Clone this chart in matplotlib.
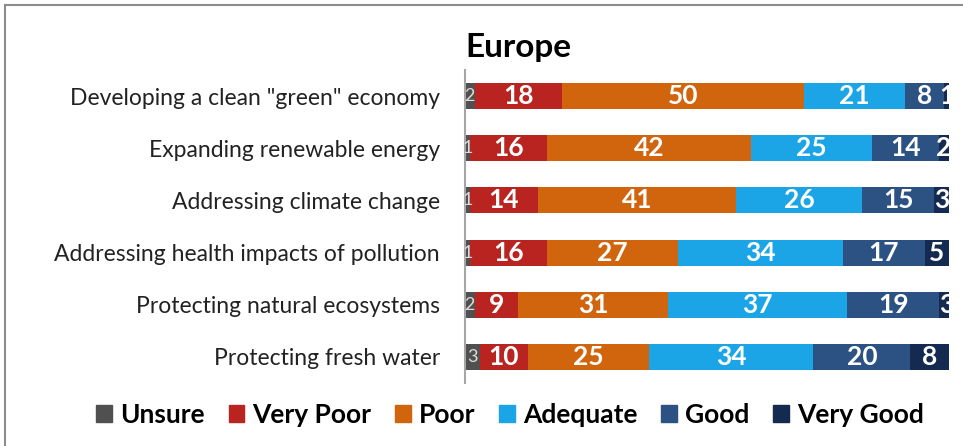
import numpy as np
import matplotlib.pyplot as plt
from matplotlib.lines import Line2D
import matplotlib.patches as mpatches

plt.rcParams['font.family'] = ['Lato', 'DejaVu Sans']

# -- data ---------------------------------------------------------------------
categories = [
    'Developing a clean "green" economy',
    'Expanding renewable energy',
    'Addressing climate change',
    'Addressing health impacts of pollution',
    'Protecting natural ecosystems',
    'Protecting fresh water',
]
series = ['Unsure', 'Very Poor', 'Poor', 'Adequate', 'Good', 'Very Good']
unsure = [2, 1, 1, 1, 2, 3]
very_poor = [18, 16, 14, 16, 9, 10]
poor = [50, 42, 41, 27, 31, 25]
adequate = [21, 25, 26, 34, 37, 34]
good = [8, 14, 15, 17, 19, 20]
very_good = [1, 2, 3, 5, 3, 8]

colors = ['#505050', '#b92320', '#d0650e', '#1ba5e6', '#2b5283', '#142a50']

# -- figure -------------------------------------------------------------------
fig = plt.figure(figsize=(9.63, 4.46), dpi=100)
ax = fig.add_axes([465 / 963, 1 - 383 / 446, (949 - 465) / 963, (383 - 70) / 446])

values = [unsure, very_poor, poor, adequate, good, very_good]
y = np.arange(len(categories))
left = np.zeros(len(categories))
for k, (name, vals, col) in enumerate(zip(series, values, colors)):
    vals = np.array(vals, dtype=float)
    ax.barh(y, vals, left=left, height=0.5, color=col, label=name, zorder=2)
    for yi, (l, v) in enumerate(zip(left, vals)):
        if k == 0:
            ax.text(l + v / 2, yi, f"{int(v)}", ha='center', va='center',
                    fontsize=13, color='#dddddd', clip_on=True, zorder=3)
        else:
            ax.text(l + v / 2, yi, f"{int(v)}", ha='center', va='center',
                    fontsize=19, fontweight='bold', color='white',
                    clip_on=True, zorder=3)
    left += vals

ax.set_xlim(0, 100)
ax.set_ylim(len(categories) - 0.5, -0.5)
ax.set_yticks(y)
ax.set_yticklabels(categories, fontsize=16.5, color='#222222')
ax.tick_params(axis='y', length=0, pad=18)
ax.set_xticks([])
for s in ['top', 'right', 'bottom']:
    ax.spines[s].set_visible(False)
ax.spines['left'].set_color('#a6a6a6')
ax.spines['left'].set_linewidth(1.5)

fig.text(465 / 963, 1 - 47 / 446, 'Europe', fontsize=24, fontweight='bold',
         ha='left', va='center', color='black')

handles = [mpatches.Patch(color=c, label=s) for s, c in zip(series, colors)]
fig.legend(handles=handles, loc='center', ncol=6,
           bbox_to_anchor=(510 / 963, 1 - 415 / 446), frameon=False,
           prop={'size': 19, 'weight': 'bold'}, handlelength=0.6,
           handleheight=0.6, handletextpad=0.3, columnspacing=0.9)

# figure border (top and left only visible)
fig.add_artist(Line2D([5 / 963, 1], [1 - 5 / 446, 1 - 5 / 446],
                      transform=fig.transFigure, color='#8c8c8c', lw=1.5))
fig.add_artist(Line2D([5 / 963, 5 / 963], [0, 1 - 5 / 446],
                      transform=fig.transFigure, color='#8c8c8c', lw=1.5))

fig.savefig('out.png', dpi=100)
